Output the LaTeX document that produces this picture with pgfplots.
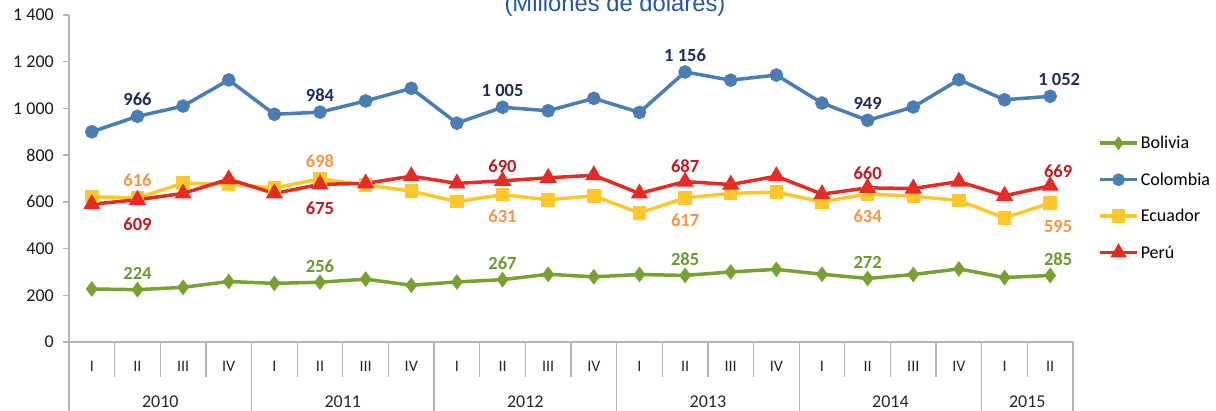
\documentclass[border=0pt]{standalone}
\usepackage{pgfplots}
\pgfplotsset{compat=1.18}
\usepackage{fontspec}
\setmainfont{Carlito}
\newfontfamily\arialf{Liberation Sans}
\definecolor{cBol}{HTML}{78A22F}
\definecolor{cCol}{HTML}{4A7DB4}
\definecolor{cEcu}{HTML}{FFC72C}
\definecolor{cPer}{HTML}{E62A24}
\definecolor{lBol}{HTML}{6A9A2B}
\definecolor{lCol}{HTML}{1F2B5E}
\definecolor{lEcu}{HTML}{F79646}
\definecolor{lPer}{HTML}{C01B22}
\definecolor{axgray}{HTML}{B4B4B4}
\definecolor{titleblue}{HTML}{2356A6}
\begin{document}
\begin{tikzpicture}[x=1pt,y=1pt]
\begin{axis}[
  at={(69pt,68pt)}, anchor=south west,
  scale only axis, width=1004pt, height=327pt,
  xmin=-0.5, xmax=21.5, ymin=0, ymax=1400,
  axis x line*=bottom, axis y line*=left,
  axis line style={draw=axgray, line width=1.3pt},
  ytick={0,200,...,1400},
  yticklabels={0,200,400,600,800,1 000,1 200,1 400},
  ytick style={draw=axgray, line width=1.3pt},
  tick align=outside, major tick length=6pt,
  xtick={0,...,21},
  xticklabels={I,II,III,IV,I,II,III,IV,I,II,III,IV,I,II,III,IV,I,II,III,IV,I,II},
  xtick style={draw=none},
  xticklabel style={anchor=center, yshift=-18pt, font=\fontsize{16}{19}\selectfont, text=black!85},
  yticklabel style={font=\fontsize{18}{21}\selectfont, text=black!90, inner sep=0pt, xshift=-9pt},
  clip=false,
  legend style={at={(1.025,0.636)}, anchor=north west, draw=none, fill=none,
    font=\fontsize{18}{21}\selectfont, row sep=18.5pt, cells={anchor=west}, inner sep=0pt},
  legend image code/.code={\draw[mark repeat=2,mark phase=2,#1] plot coordinates {(0pt,0pt) (18.5pt,0pt) (37pt,0pt)};},
  every axis plot/.append style={line width=3.5pt},
]
% separators of the category table
\pgfplotsinvokeforeach{0.5,1.5,2.5,4.5,5.5,6.5,8.5,9.5,10.5,12.5,13.5,14.5,16.5,17.5,18.5,20.5}{
  \draw[axgray, line width=1.3pt] (axis cs:#1,0) -- ([yshift=-35pt]axis cs:#1,0);
}
\pgfplotsinvokeforeach{-0.5,3.5,7.5,11.5,15.5,19.5,21.5}{
  \draw[axgray, line width=1.3pt] (axis cs:#1,0) -- ([yshift=-90pt]axis cs:#1,0);
}
\node[font=\fontsize{18}{21}\selectfont, text=black!85] at ([yshift=-60pt]axis cs:1.5,0) {2010};
\node[font=\fontsize{18}{21}\selectfont, text=black!85] at ([yshift=-60pt]axis cs:5.5,0) {2011};
\node[font=\fontsize{18}{21}\selectfont, text=black!85] at ([yshift=-60pt]axis cs:9.5,0) {2012};
\node[font=\fontsize{18}{21}\selectfont, text=black!85] at ([yshift=-60pt]axis cs:13.5,0) {2013};
\node[font=\fontsize{18}{21}\selectfont, text=black!85] at ([yshift=-60pt]axis cs:17.5,0) {2014};
\node[font=\fontsize{18}{21}\selectfont, text=black!85] at ([yshift=-60pt]axis cs:20.5,0) {2015};

% Bolivia
\addplot[color=cBol, mark=diamond*, mark size=5pt, mark options={solid, fill=cBol}, legend image post style={mark size=4pt}] coordinates {
(0,227) (1,224) (2,234) (3,259) (4,251) (5,256) (6,269) (7,243) (8,257) (9,267) (10,290)
(11,279) (12,289) (13,285) (14,300) (15,311) (16,290) (17,272) (18,289) (19,313) (20,276) (21,285)};
\addlegendentry{Bolivia}
% Colombia
\addplot[color=cCol, mark=*, mark size=5pt, mark options={solid, fill=cCol}, legend image post style={mark size=4.5pt}] coordinates {
(0,900) (1,966) (2,1010) (3,1122) (4,975) (5,984) (6,1032) (7,1086) (8,937) (9,1005) (10,990)
(11,1043) (12,983) (13,1156) (14,1121) (15,1143) (16,1023) (17,949) (18,1006) (19,1123) (20,1037) (21,1052)};
\addlegendentry{Colombia}
% Ecuador
\addplot[color=cEcu, mark=square*, mark size=5pt, mark options={solid, fill=cEcu}] coordinates {
(0,622) (1,616) (2,680) (3,676) (4,659) (5,698) (6,673) (7,646) (8,601) (9,631) (10,609)
(11,626) (12,552) (13,617) (14,636) (15,642) (16,600) (17,634) (18,624) (19,606) (20,531) (21,595)};
\addlegendentry{Ecuador}
% Peru
\addplot[color=cPer, mark=triangle*, mark size=6.5pt, mark options={solid, fill=cPer}, legend image post style={mark size=6pt}] coordinates {
(0,590) (1,609) (2,636) (3,697) (4,636) (5,675) (6,679) (7,710) (8,679) (9,690) (10,703)
(11,714) (12,636) (13,687) (14,674) (15,710) (16,633) (17,660) (18,657) (19,687) (20,626) (21,669)};
\addlegendentry{Perú}

% data labels
\addplot[draw=none, mark=none, forget plot, nodes near coords, point meta=explicit symbolic,
  every node near coord/.style={anchor=center, yshift=16pt, font=\bfseries\fontsize{18.5}{21}\selectfont, text=lBol}]
  coordinates {(1,224) [224] (5,256) [256] (9,267) [267] (13,285) [285] (17,272) [272]};
\addplot[draw=none, mark=none, forget plot, nodes near coords, point meta=explicit symbolic,
  every node near coord/.style={anchor=center, yshift=16pt, xshift=8pt, font=\bfseries\fontsize{18.5}{21}\selectfont, text=lBol}]
  coordinates {(21,285) [285]};
\addplot[draw=none, mark=none, forget plot, nodes near coords, point meta=explicit symbolic,
  every node near coord/.style={anchor=center, yshift=17pt, font=\bfseries\fontsize{18.5}{21}\selectfont, text=lCol}]
  coordinates {(1,966) [966] (5,984) [984] (9,1005) [1\ 005] (13,1156) [1\ 156] (17,949) [949]};
\addplot[draw=none, mark=none, forget plot, nodes near coords, point meta=explicit symbolic,
  every node near coord/.style={anchor=center, yshift=17pt, xshift=9pt, font=\bfseries\fontsize{18.5}{21}\selectfont, text=lCol}]
  coordinates {(21,1052) [1\ 052]};
\addplot[draw=none, mark=none, forget plot, nodes near coords, point meta=explicit symbolic,
  every node near coord/.style={anchor=center, yshift=18pt, font=\bfseries\fontsize{18.5}{21}\selectfont, text=lEcu}]
  coordinates {(1,616) [616] (5,698) [698]};
\addplot[draw=none, mark=none, forget plot, nodes near coords, point meta=explicit symbolic,
  every node near coord/.style={anchor=center, yshift=-22pt, font=\bfseries\fontsize{18.5}{21}\selectfont, text=lEcu}]
  coordinates {(9,631) [631] (13,617) [617] (17,634) [634]};
\addplot[draw=none, mark=none, forget plot, nodes near coords, point meta=explicit symbolic,
  every node near coord/.style={anchor=center, yshift=-23pt, xshift=8pt, font=\bfseries\fontsize{18.5}{21}\selectfont, text=lEcu}]
  coordinates {(21,595) [595]};
\addplot[draw=none, mark=none, forget plot, nodes near coords, point meta=explicit symbolic,
  every node near coord/.style={anchor=center, yshift=-24pt, font=\bfseries\fontsize{18.5}{21}\selectfont, text=lPer}]
  coordinates {(1,609) [609] (5,675) [675]};
\addplot[draw=none, mark=none, forget plot, nodes near coords, point meta=explicit symbolic,
  every node near coord/.style={anchor=center, yshift=15pt, font=\bfseries\fontsize{18.5}{21}\selectfont, text=lPer}]
  coordinates {(9,690) [690] (13,687) [687] (17,660) [660]};
\addplot[draw=none, mark=none, forget plot, nodes near coords, point meta=explicit symbolic,
  every node near coord/.style={anchor=center, yshift=14pt, xshift=8pt, font=\bfseries\fontsize{18.5}{21}\selectfont, text=lPer}]
  coordinates {(21,669) [669]};
\end{axis}
\node[font=\arialf\fontsize{23.8}{28}\selectfont, text=titleblue, anchor=base] at (615pt,398pt) {(Millones de dólares)};
\pgfresetboundingbox
\useasboundingbox (0,0) rectangle (1216pt,410pt);
\end{tikzpicture}
\end{document}
